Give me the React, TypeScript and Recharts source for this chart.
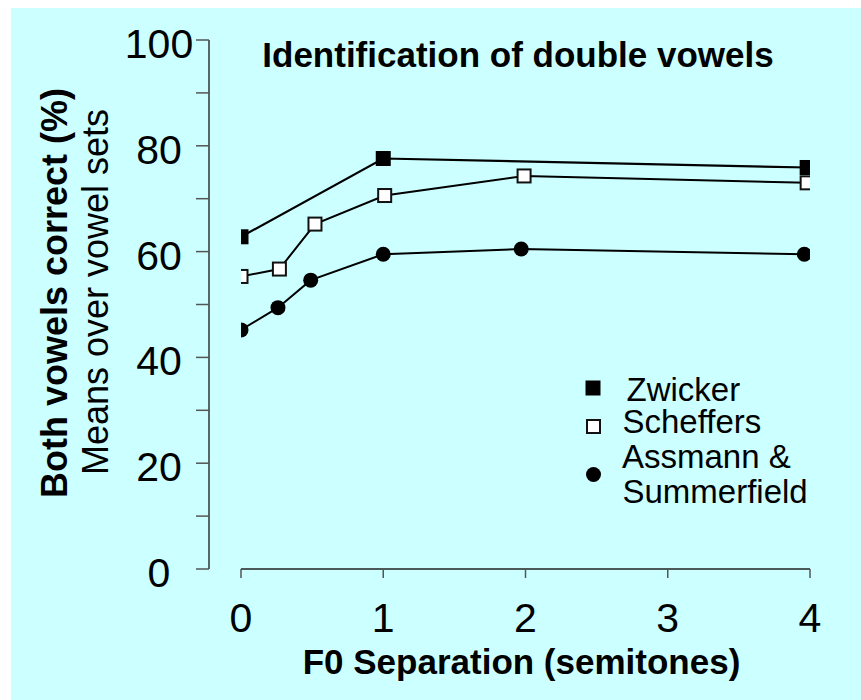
import React from 'react';
import { LineChart, Line, XAxis, YAxis, ReferenceLine, Legend } from 'recharts';

const FONT = '"Liberation Sans", Arial, Helvetica, sans-serif';

const xTicks = [0, 1, 2, 3, 4];
const yTicks = [0, 10, 20, 30, 40, 50, 60, 70, 80, 90, 100];
const yLabeled = [0, 20, 40, 60, 80, 100];

const chartTitle = 'Identification of double vowels';
const xTitle = 'F0 Separation (semitones)';
const yTitleBold = 'Both vowels correct (%)';
const yTitleRegular = 'Means over vowel sets';

const seriesNames = ['Zwicker', 'Scheffers', 'Assmann &', 'Summerfield'];

const zwickerX = [0, 1.0, 3.98];
const zwickerY = [62.8, 77.6, 75.9];
const scheffersX = [0, 0.27, 0.52, 1.01, 1.99, 3.98];
const scheffersY = [55.3, 56.7, 65.2, 70.6, 74.3, 73.0];
const assmannX = [0, 0.26, 0.49, 1.0, 1.97, 3.96];
const assmannY = [45.2, 49.4, 54.6, 59.5, 60.5, 59.5];

const zip = (xs: number[], ys: number[]) => xs.map((x, i) => ({ x, y: ys[i] }));
const zwickerData = zip(zwickerX, zwickerY);
const scheffersData = zip(scheffersX, scheffersY);
const assmannData = zip(assmannX, assmannY);

const FilledSquare = (p: any) => {
  if (p.cx == null || p.cy == null) return <g key={p.index} />;
  return <rect key={p.index} x={p.cx - 7.5} y={p.cy - 7.5} width={15} height={15} fill="#000" />;
};
const OpenSquare = (p: any) => {
  if (p.cx == null || p.cy == null) return <g key={p.index} />;
  return <rect key={p.index} x={p.cx - 6.5} y={p.cy - 6.5} width={13} height={13} fill="#fff" stroke="#111" strokeWidth={2} />;
};
const FilledDot = (p: any) => {
  if (p.cx == null || p.cy == null) return <g key={p.index} />;
  return <circle key={p.index} cx={p.cx} cy={p.cy} r={7.5} fill="#000" />;
};

const XTick = (p: any) => {
  const { x, y, payload } = p;
  return (
    <text x={x} y={y + 54} textAnchor="middle" fontFamily={FONT} fontSize={41} fill="#000">
      {payload.value}
    </text>
  );
};

const YTick = (p: any) => {
  const { x, y, payload } = p;
  if (!yLabeled.includes(payload.value)) return <g />;
  return (
    <text x={x - 37} y={y + 18} textAnchor="middle" fontFamily={FONT} fontSize={41} fill="#000">
      {payload.value}
    </text>
  );
};

const Overlay = () => (
  <svg width={850} height={692} style={{ position: 'absolute', left: 0, top: 0 }}>
    <text x={507} y={58.7} textAnchor="middle" fontFamily={FONT} fontWeight="bold" fontSize={35} fill="#000">
      {chartTitle}
    </text>
    <text x={510.5} y={666} textAnchor="middle" fontFamily={FONT} fontWeight="bold" fontSize={35} fill="#000">
      {xTitle}
    </text>
    <text x={56} y={285} transform="rotate(-90 56 285)" textAnchor="middle" fontFamily={FONT} fontWeight="bold" fontSize={36} fill="#000">
      {yTitleBold}
    </text>
    <text x={97} y={284} transform="rotate(-90 97 284)" textAnchor="middle" fontFamily={FONT} fontSize={36} fill="#000">
      {yTitleRegular}
    </text>
    <rect x={574.5} y={372.5} width={15} height={15} fill="#000" />
    <text x={615.5} y={392.7} fontFamily={FONT} fontSize={33} fill="#000">{seriesNames[0]}</text>
    <rect x={576} y={412} width={13} height={13} fill="#fff" stroke="#111" strokeWidth={2} />
    <text x={611.5} y={425} fontFamily={FONT} fontSize={33} fill="#000">{seriesNames[1]}</text>
    <circle cx={582.5} cy={466.5} r={7.5} fill="#000" />
    <text x={611} y={460} fontFamily={FONT} fontSize={33} fill="#000">{seriesNames[2]}</text>
    <text x={611.5} y={495} fontFamily={FONT} fontSize={33} fill="#000">{seriesNames[3]}</text>
  </svg>
);

export default function App() {
  return (
    <div style={{ position: 'absolute', left: 11, top: 8, width: 850, height: 692, background: '#ccffff' }}>
      <LineChart width={850} height={692} margin={{ top: 32, right: 51, left: 0, bottom: 0 }}>
        <XAxis
          type="number"
          dataKey="x"
          domain={[0, 4]}
          ticks={xTicks}
          interval={0}
          padding={{ left: 32, right: 0 }}
          axisLine={false}
          tickLine={{ stroke: '#555', strokeWidth: 1.5 }}
          tickSize={9}
          tickMargin={0}
          tick={<XTick />}
          height={131}
          allowDataOverflow
        />
        <YAxis
          type="number"
          dataKey="y"
          domain={[0, 100]}
          ticks={yTicks}
          interval={0}
          width={198}
          axisLine={{ stroke: '#333', strokeWidth: 1.5 }}
          tickLine={{ stroke: '#555', strokeWidth: 1.5 }}
          tickSize={13}
          tickMargin={0}
          tick={<YTick />}
        />
        <ReferenceLine
          segment={[{ x: 0, y: 0 }, { x: 4, y: 0 }]}
          stroke="#222"
          strokeWidth={1.5}
          ifOverflow="visible"
        />
        <Line data={assmannData} dataKey="y" name="Assmann & Summerfield" stroke="#000" strokeWidth={2} dot={FilledDot} activeDot={false} isAnimationActive={false} />
        <Line data={scheffersData} dataKey="y" name="Scheffers" stroke="#000" strokeWidth={2} dot={OpenSquare} activeDot={false} isAnimationActive={false} />
        <Line data={zwickerData} dataKey="y" name="Zwicker" stroke="#000" strokeWidth={2.2} dot={FilledSquare} activeDot={false} isAnimationActive={false} />
        <Legend
          layout="vertical"
          align="center"
          verticalAlign="middle"
          wrapperStyle={{ left: 0, top: 0, width: 850, height: 692, pointerEvents: 'none' }}
          content={() => <Overlay />}
        />
      </LineChart>
    </div>
  );
}
